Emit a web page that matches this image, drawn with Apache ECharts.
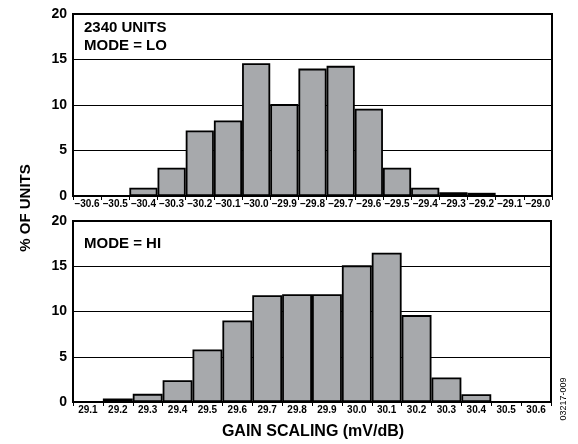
<!DOCTYPE html>
<html>
<head>
<meta charset="utf-8">
<script src="https://cdn.jsdelivr.net/npm/echarts@6/dist/echarts.min.js"></script>
<style>
  html, body { margin: 0; padding: 0; background: #fff; }
  #main { width: 578px; height: 444px; }
</style>
</head>
<body>
<div id="main"></div>
<script>
// 上图 MODE = LO
var loBins = ['\u201330.6', '\u201330.5', '\u201330.4', '\u201330.3', '\u201330.2', '\u201330.1', '\u201330.0', '\u201329.9',
  '\u201329.8', '\u201329.7', '\u201329.6', '\u201329.5', '\u201329.4', '\u201329.3', '\u201329.2', '\u201329.1', '\u201329.0'];
var loPct = [0, 0, 0.9, 3.1, 7.2, 8.3, 14.6, 10.1, 14.0, 14.3, 9.6, 3.1, 0.9, 0.4, 0.35, 0, 0];

// 下图 MODE = HI
var hiBins = ['29.1', '29.2', '29.3', '29.4', '29.5', '29.6', '29.7', '29.8', '29.9', '30.0', '30.1', '30.2', '30.3', '30.4', '30.5', '30.6'];
var hiPct = [0, 0.4, 0.9, 2.4, 5.8, 9.0, 11.8, 11.9, 11.9, 15.1, 16.5, 9.6, 2.7, 0.85, 0, 0];

var yTicks = [0, 20, 5];

var font = '"Liberation Sans", Arial, sans-serif';
var myChart = echarts.init(document.getElementById('main'));

function xAx(idx, data, size) {
  return {
    type: 'category',
    gridIndex: idx,
    data: data,
    axisLine: { lineStyle: { color: '#000', width: 2 } },
    axisTick: { show: true, length: 4, lineStyle: { color: '#000', width: 1 } },
    axisLabel: { interval: 0, margin: 3, color: '#000', fontWeight: 'bold', fontSize: size, fontFamily: font },
    splitLine: { show: false }
  };
}
function yAx(idx) {
  return {
    type: 'value',
    gridIndex: idx,
    min: yTicks[0], max: yTicks[1], interval: yTicks[2],
    axisLine: { show: true, lineStyle: { color: '#000', width: 2 } },
    axisTick: { show: false },
    axisLabel: { margin: 6, color: '#000', fontWeight: 'bold', fontSize: 14, fontFamily: font },
    splitLine: { show: true, lineStyle: { color: '#000', width: 1 } }
  };
}
function bars(idx, data) {
  return {
    type: 'bar',
    xAxisIndex: idx, yAxisIndex: idx,
    data: data,
    barCategoryGap: 0,
    itemStyle: { color: '#a7a9ac', borderColor: '#000', borderWidth: 1.8 },
    silent: true
  };
}

var option = {
  animation: false,
  grid: [
    { left: 73, top: 14, width: 479, height: 182, show: true, borderColor: '#000', borderWidth: 2, backgroundColor: 'transparent' },
    { left: 73, top: 221, width: 478, height: 181, show: true, borderColor: '#000', borderWidth: 2, backgroundColor: 'transparent' }
  ],
  xAxis: [xAx(0, loBins, 10), xAx(1, hiBins, 10)],
  yAxis: [yAx(0), yAx(1)],
  series: [bars(0, loPct), bars(1, hiPct)],
  graphic: [
    { type: 'text', x: 84, y: 28, style: { text: '2340 UNITS', font: 'bold 15px ' + font, fill: '#000', verticalAlign: 'middle' } },
    { type: 'text', x: 84, y: 46, style: { text: 'MODE = LO', font: 'bold 15px ' + font, fill: '#000', verticalAlign: 'middle' } },
    { type: 'text', x: 84, y: 244, style: { text: 'MODE = HI', font: 'bold 15px ' + font, fill: '#000', verticalAlign: 'middle' } },
    { type: 'text', x: 26, y: 208, rotation: Math.PI / 2,
      style: { text: '% OF UNITS', font: 'bold 15px ' + font, fill: '#000', align: 'center', verticalAlign: 'middle' } },
    { type: 'text', x: 313, y: 432,
      style: { text: 'GAIN SCALING (mV/dB)', font: 'bold 16px ' + font, fill: '#000', align: 'center', verticalAlign: 'middle' } },
    { type: 'text', x: 564, y: 399, rotation: Math.PI / 2,
      style: { text: '03217-009', font: '9px ' + font, fill: '#000', align: 'center', verticalAlign: 'middle' } }
  ]
};
myChart.setOption(option);
</script>
</body>
</html>
